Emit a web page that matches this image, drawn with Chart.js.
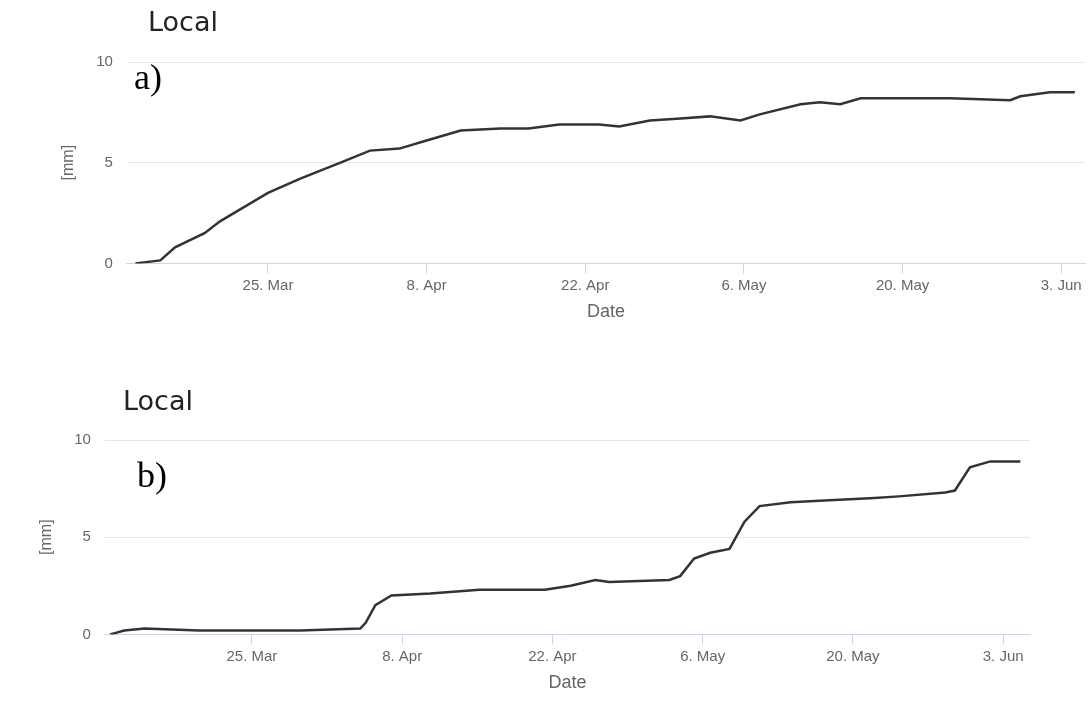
<!DOCTYPE html>
<html><head><meta charset="utf-8">
<script src="https://cdn.jsdelivr.net/npm/chart.js@4"></script>
<style>
body{margin:0;background:#fff;width:1088px;height:708px;overflow:hidden;position:relative;font-family:"DejaVu Sans",sans-serif}
.box{position:absolute;left:0;width:1088px}
.t{position:absolute;font-size:27px;color:#222}
.l{position:absolute;font-family:"Liberation Serif",serif;font-size:36px;color:#000}
</style></head><body>
<div class="box" style="top:0;height:345px"><canvas id="a"></canvas></div>
<div class="box" style="top:375px;height:333px"><canvas id="b"></canvas></div>
<div class="t" style="left:148px;top:6px">Local</div>
<div class="l" style="left:134px;top:56px">a)</div>
<div class="t" style="left:123px;top:385px">Local</div>
<div class="l" style="left:137px;top:454px">b)</div>
<script>
// x = day number counted from 1 March (25 Mar = 24)
const tickDays = [24, 38, 52, 66, 80, 94];
const tickLabels = ["25. Mar", "8. Apr", "22. Apr", "6. May", "20. May", "3. Jun"];
const daysA = [12.3,14.5,15.8,18.4,19.8,24,26.8,30.4,33,35.6,38,41,44.5,47,49.7,53.2,55,57.7,60.4,63,65.7,67.4,71,72.7,74.5,76.3,80,84.2,89.5,90.4,93,95.2];
const valsA = [0,0.15,0.8,1.5,2.1,3.5,4.2,5,5.6,5.7,6.1,6.6,6.7,6.7,6.9,6.9,6.8,7.1,7.2,7.3,7.1,7.4,7.9,8.0,7.9,8.2,8.2,8.2,8.1,8.3,8.5,8.5];
const daysB = [10.8,12.1,14.0,19.1,28.5,34.1,34.6,35.5,37.0,40.6,45.2,51.3,53.7,56.0,57.3,62.9,63.9,65.2,66.7,68.5,69.9,71.3,74.2,77.8,81.6,84.3,88.6,89.5,90.9,92.8,95.6];
const valsB = [0,0.2,0.3,0.2,0.2,0.3,0.6,1.5,2.0,2.1,2.3,2.3,2.5,2.8,2.7,2.8,3.0,3.9,4.2,4.4,5.8,6.6,6.8,6.9,7.0,7.1,7.3,7.4,8.6,8.9,8.9];
const yTicks = [0,5,10];

function make(id, days, vals, xmin, xmax, pad){
  new Chart(document.getElementById(id), {
    type:'line',
    data:{datasets:[{data:days.map((d,i)=>({x:d,y:vals[i]})),borderColor:'#333',borderWidth:2.5,pointRadius:0,tension:0}]},
    options:{responsive:true,maintainAspectRatio:false,animation:false,
      layout:{padding:pad},
      plugins:{legend:{display:false},tooltip:{enabled:false}},
      scales:{
        x:{type:'linear',min:xmin,max:xmax,
          afterBuildTicks:s=>{s.ticks=tickDays.map(v=>({value:v}));},
          ticks:{callback:v=>tickLabels[tickDays.indexOf(v)]||'',color:'#666',font:{size:15},maxRotation:0},
          grid:{display:true,drawOnChartArea:false,color:'#ccd6eb',tickLength:10},
          border:{color:'#ccd6eb'},
          title:{display:true,text:'Date',color:'#666',font:{size:18}}},
        y:{min:0,max:10,
          afterBuildTicks:s=>{s.ticks=yTicks.map(v=>({value:v}));},
          ticks:{color:'#666',font:{size:15},padding:14},
          grid:{color:'#e6e6e6',drawTicks:false},border:{display:false},
          title:{display:true,text:'[mm]',color:'#666',font:{size:16}}}
      }}
  });
}
make('a', daysA, valsA, 11.55, 96.1, {top:62,right:3,left:55,bottom:18});
make('b', daysB, valsB, 10.3, 96.5, {top:65,right:58,left:33,bottom:10});
</script></body></html>
